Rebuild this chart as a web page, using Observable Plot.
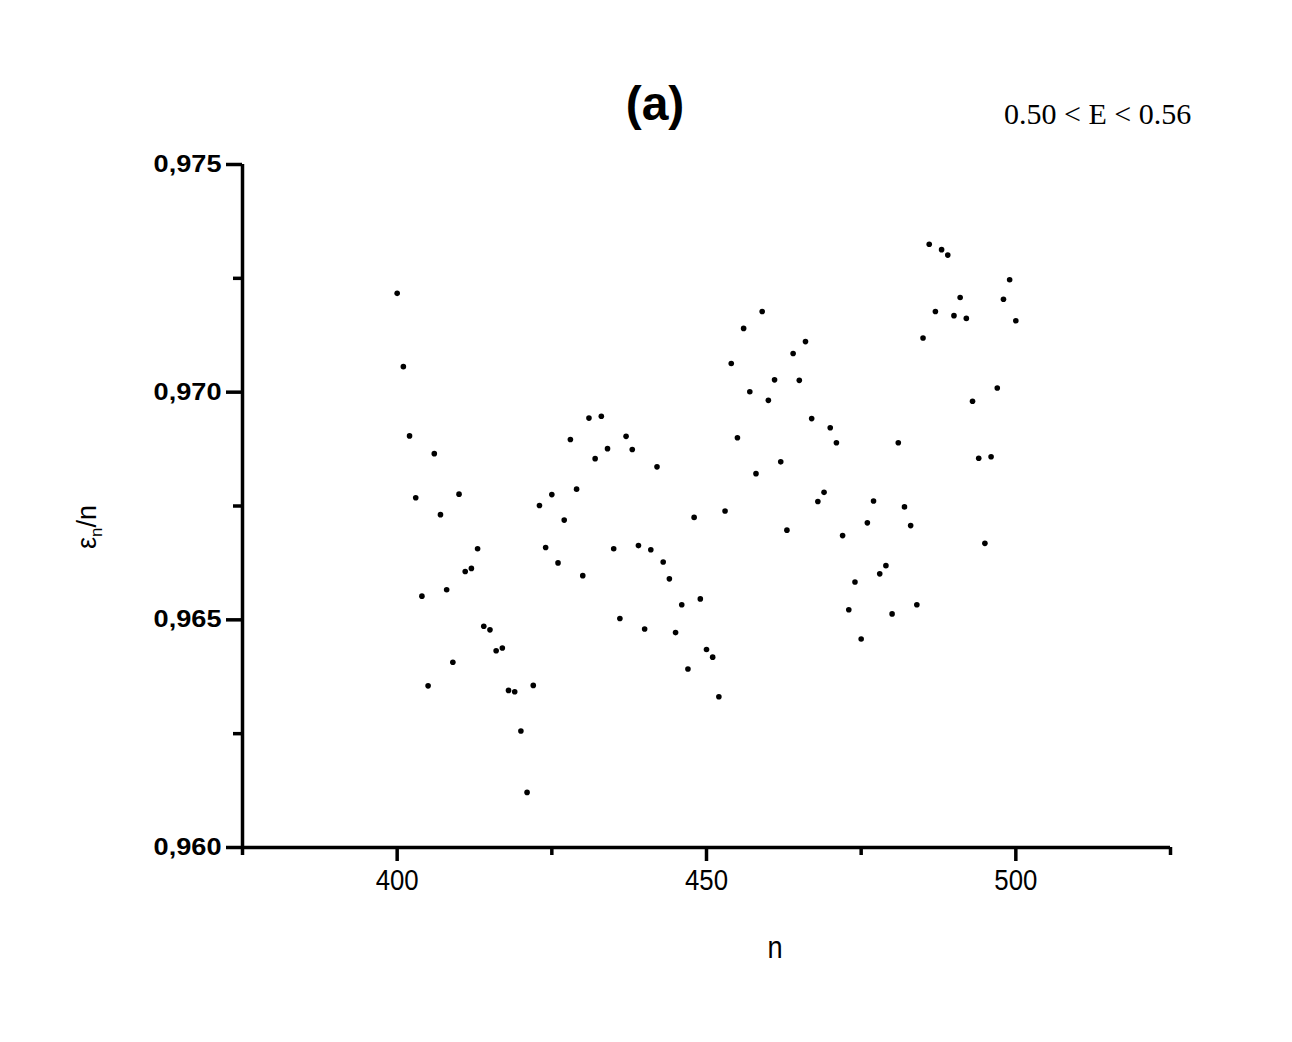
<!DOCTYPE html>
<html>
<head>
<meta charset="utf-8">
<script src="https://cdn.jsdelivr.net/npm/d3@7"></script>
<script src="https://cdn.jsdelivr.net/npm/@observablehq/plot@0.6"></script>
<style>
  html, body { margin: 0; padding: 0; background: #fff; }
  #wrap { position: relative; width: 1292px; height: 1042px; overflow: hidden; }
  #title { position: absolute; left: 655px; top: 80px; transform: translateX(-50%);
           font-family: "Liberation Sans", Arial, sans-serif; font-weight: bold; font-size: 48px; line-height: 1; }
  #range { position: absolute; left: 1004px; top: 99px;
           font-family: "Liberation Serif", "Times New Roman", serif; font-size: 30px; line-height: 1; white-space: nowrap; }
  #ylab { position: absolute; left: 89px; top: 527px; transform: translate(-50%, -50%) rotate(-90deg);
          font-family: "Liberation Sans", Arial, sans-serif; font-size: 27px; line-height: 1; white-space: nowrap; }
  #ylab sub { font-size: 17px; vertical-align: -6px; }
  #xlab { position: absolute; left: 775px; top: 947px; transform: translate(-50%, -50%) scaleX(0.85);
          font-family: "Liberation Sans", Arial, sans-serif; font-size: 32px; line-height: 1; }
</style>
</head>
<body>
<div id="wrap">
  <div id="chart"></div>
  <div id="title">(a)</div>
  <div id="range">0.50 &lt; E &lt; 0.56</div>
  <div id="ylab">ε<sub>n</sub>/n</div>
  <div id="xlab">n</div>
</div>
<script>
// level index n
const nValues = [
  400,401,402,403,404,405,406,407,408,409,
  410,411,412,413,414,415,416,417,418,419,
  420,421,422,423,424,425,426,427,428,429,
  430,431,432,433,434,435,436,437,438,439,
  440,441,442,443,444,445,446,447,448,449,
  450,451,452,453,454,455,456,457,458,459,
  460,461,462,463,464,465,466,467,468,469,
  470,471,472,473,474,475,476,477,478,479,
  480,481,482,483,484,485,486,487,488,489,
  490,491,492,493,494,495,496,497,498,499,
  500
];
// eps_n / n
const ratioValues = [
  0.97217,0.97056,0.96904,0.96768,0.96552,0.96355,0.96865,0.96731,0.96566,0.96407,
  0.96776,0.96606,0.96613,0.96656,0.96486,0.96478,0.96432,0.96438,0.96345,0.96342,
  0.96256,0.96121,0.96356,0.96751,0.96659,0.96775,0.96625,0.96719,0.96896,0.96787,
  0.96597,0.96943,0.96854,0.96947,0.96876,0.96656,0.96503,0.96903,0.96874,0.96663,
  0.96480,0.96654,0.96836,0.96627,0.96590,0.96472,0.96533,0.96392,0.96725,0.96546,
  0.96435,0.96418,0.96331,0.96739,0.97063,0.96900,0.97140,0.97001,0.96821,0.97177,
  0.96982,0.97027,0.96847,0.96697,0.97085,0.97026,0.97111,0.96942,0.96760,0.96780,
  0.96922,0.96889,0.96685,0.96522,0.96583,0.96458,0.96713,0.96761,0.96601,0.96619,
  0.96513,0.96889,0.96748,0.96707,0.96533,0.97119,0.97325,0.97177,0.97313,0.97301,
  0.97168,0.97208,0.97162,0.96980,0.96855,0.96668,0.96858,0.97009,0.97204,0.97247,
  0.97157
];
const xMajorTicks = [400, 450, 500];
const xMinorTicks = [375, 425, 475, 525];
const yMajorTicks = [0.960, 0.965, 0.970, 0.975];
const yMinorTicks = [0.9625, 0.9675, 0.9725];
const xDomain = [375, 525];
const yDomain = [0.960, 0.975];

const data = nValues.map((n, i) => ({n, r: ratioValues[i]}));
const axisW = 3.5;

const chart = Plot.plot({
  width: 1292,
  height: 1042,
  marginLeft: 242,
  marginRight: 122,
  marginTop: 164,
  marginBottom: 195,
  style: {background: "#fff", color: "#000", fontFamily: "'Liberation Sans', Arial, sans-serif"},
  x: {domain: xDomain},
  y: {domain: yDomain},
  marks: [
    Plot.axisY({ticks: yMajorTicks, tickSize: 16, tickPadding: 5, strokeWidth: axisW,
      tickFormat: d => d.toFixed(3).replace(".", ","), fontSize: 23, fontWeight: "bold", label: null}),
    Plot.axisY({ticks: yMinorTicks, tickSize: 9, strokeWidth: axisW, tickFormat: () => "", label: null}),
    Plot.axisX({ticks: xMajorTicks, tickSize: 14, tickPadding: 7, strokeWidth: axisW,
      fontSize: 30, label: null}),
    Plot.axisX({ticks: xMinorTicks, tickSize: 8, strokeWidth: axisW, tickFormat: () => "", label: null}),
    Plot.ruleX([xDomain[0]], {stroke: "#000", strokeWidth: axisW}),
    Plot.ruleY([yDomain[0]], {stroke: "#000", strokeWidth: axisW}),
    Plot.dot(data, {x: "n", y: "r", r: 2.8, fill: "#000", stroke: "none"})
  ]
});
// stretch/condense tick label glyphs to match the reference typography
d3.select(chart).selectAll('g[aria-label="y-axis tick label"] text')
  .attr("transform", function() { return (this.getAttribute("transform") || "") + " scale(1.18,1)"; });
d3.select(chart).selectAll('g[aria-label="x-axis tick label"] text')
  .attr("transform", function() { return (this.getAttribute("transform") || "") + " scale(0.86,1)"; });
document.getElementById("chart").appendChild(chart);
</script>
</body>
</html>
